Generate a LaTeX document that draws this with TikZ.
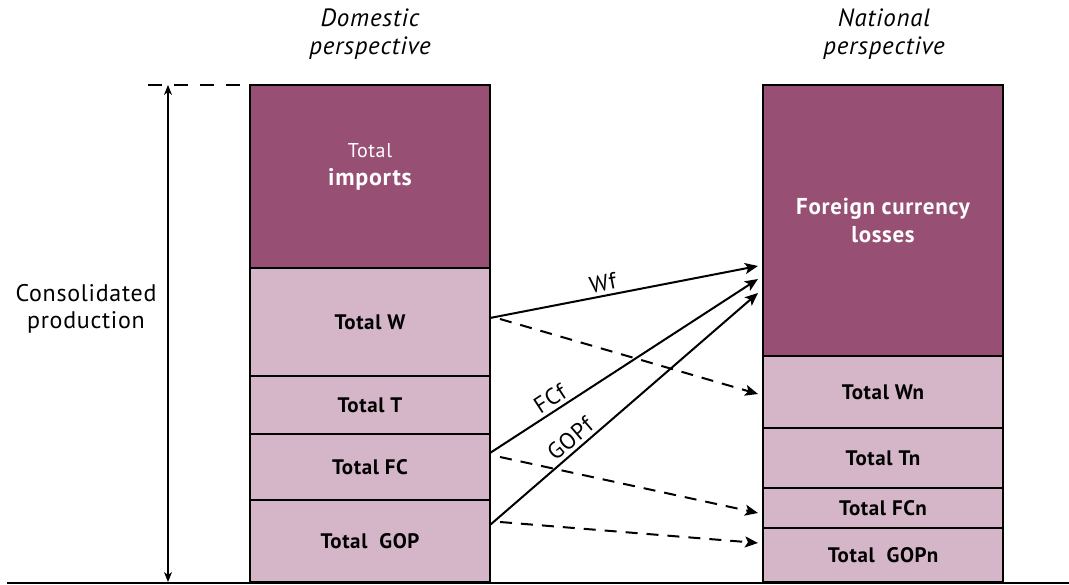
\documentclass[tikz,border=0pt]{standalone}
\usepackage{fontspec}
\setmainfont{PT Sans}[LetterSpace=3]
\usepackage{xcolor}
\usetikzlibrary{positioning,arrows.meta}
\definecolor{plumdark}{RGB}{151,79,115}
\definecolor{plumlight}{RGB}{213,182,200}

\begin{document}
\begin{tikzpicture}[x=1pt, y=1pt]
                \tikzstyle{darkbox} = [rectangle, minimum width=240pt, draw=black, line width=2.5pt, fill=plumdark, text=white, align=center, inner sep=0pt, outer sep=0pt]
                \tikzstyle{lightbox} = [rectangle, minimum width=240pt, draw=black, line width=2.5pt, fill=plumlight, inner sep=0pt, outer sep=0pt, font=\bfseries\fontsize{21}{24}\selectfont]
                \tikzstyle{head} = [align=center, font=\itshape\fontsize{25}{28}\selectfont]
                \tikzstyle{flow} = [line width=2pt,-{Stealth[length=13pt, width=11pt, inset=3pt]}]
                \tikzstyle{flowdash} = [flow, dash pattern=on 12pt off 9pt]
                \tikzstyle{flowlabel} = [above, sloped, font=\fontsize{23}{24}\selectfont]

                \useasboundingbox (0,0) rectangle (1069,585);

                \node (domhead) [head] at (370,551) {Domestic\\perspective};
                \node (nathead) [head] at (884,551) {National\\perspective};
                \node (consol) [align=center, font=\fontsize{24}{27}\selectfont] at (86,276) {Consolidated\\production};

                \node (imports) [darkbox, minimum height=183pt, anchor=north] at (370,500) {{\fontsize{20}{24}\selectfont Total}\\[9pt]{\bfseries\fontsize{24}{26}\selectfont imports}\\[12pt]\mbox{}};
                \node (totw) [lightbox, minimum height=108pt, below=0pt of imports] {Total W};
                \node (tott) [lightbox, minimum height=58pt, below=0pt of totw] {Total T};
                \node (totfc) [lightbox, minimum height=66pt, below=0pt of tott] {Total FC};
                \node (totgop) [lightbox, minimum height=82pt, below=0pt of totfc] {Total\ \ GOP};

                \node (foreign) [darkbox, minimum height=271pt, anchor=north, font=\bfseries\fontsize{23}{28}\selectfont] at (883,500) {Foreign currency\\losses};
                \node (totwn) [lightbox, minimum height=72pt, below=0pt of foreign] {Total Wn};
                \node (tottn) [lightbox, minimum height=60pt, below=0pt of totwn] {Total Tn};
                \node (totfcn) [lightbox, minimum height=40pt, below=0pt of tottn] {Total FCn};
                \node (totgopn) [lightbox, minimum height=54pt, below=0pt of totfcn] {Total\ \ GOPn};

                \coordinate (dashl) at (148,500);
                \coordinate (arrtop) at (168,500);
                \coordinate (arrbot) at (168,3);
                \coordinate (basel) at (7,2);
                \coordinate (baser) at (1069,2);

                \draw [line width=2pt, dash pattern=on 14pt off 12pt] (dashl) -- (imports.north west);
                \draw [line width=1.2pt, {Stealth[length=10pt, width=8pt, inset=3pt]}-{Stealth[length=10pt, width=8pt, inset=3pt]}] (arrtop) -- (arrbot);
                \draw [line width=1.5pt] (basel) -- (baser);

                \draw [flow] ([yshift=4pt]totw.east) -- node [flowlabel, pos=0.43] {Wf} ([xshift=-5pt, yshift=-45.5pt]foreign.west);
                \draw [flow] ([yshift=14pt]totfc.east) -- node [flowlabel, pos=0.25] {FCf} ([xshift=-5pt, yshift=-58.5pt]foreign.west);
                \draw [flow] ([yshift=16pt]totgop.east) -- node [flowlabel, pos=0.33] {GOPf} ([xshift=-5pt, yshift=-72.5pt]foreign.west);

                \draw [flowdash] ([xshift=10pt, yshift=3pt]totw.east) -- ([xshift=-5pt, yshift=-2pt]totwn.west);
                \draw [flowdash] ([xshift=10pt, yshift=10pt]totfc.east) -- ([xshift=-5pt, yshift=-5pt]totfcn.west);
                \draw [flowdash] ([xshift=10pt, yshift=19pt]totgop.east) -- ([xshift=-5pt, yshift=12pt]totgopn.west);
            \end{tikzpicture}
\end{document}
